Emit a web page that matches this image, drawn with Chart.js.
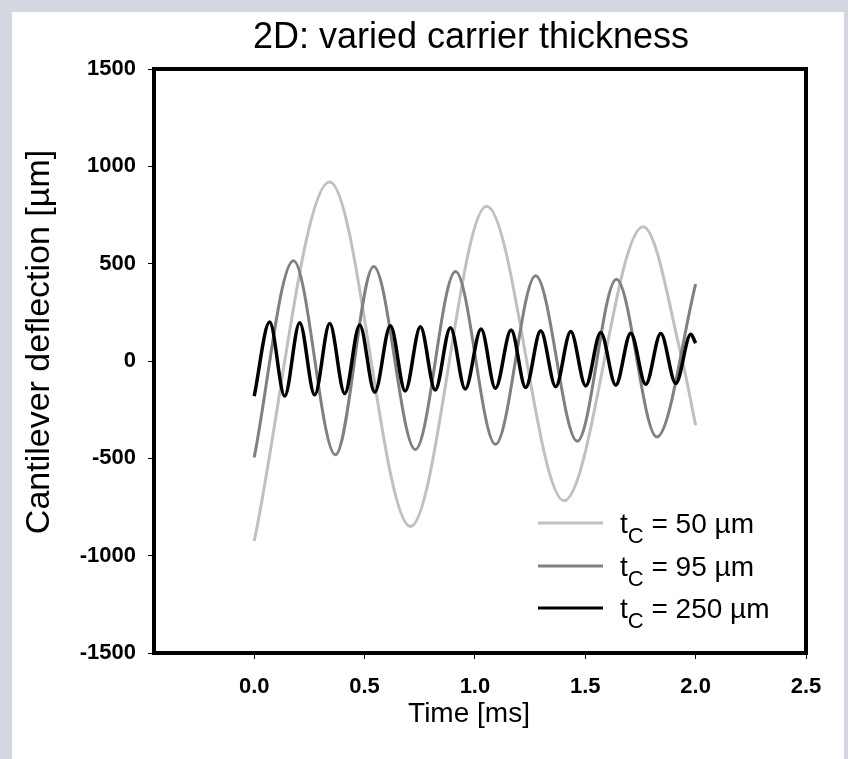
<!DOCTYPE html>
<html>
<head>
<meta charset="utf-8">
<title>2D: varied carrier thickness</title>
<script src="https://cdn.jsdelivr.net/npm/chart.js@4.4.1/dist/chart.umd.min.js"></script>
<style>
  html, body { margin: 0; padding: 0; background: #d3d8e0; }
  body { width: 848px; height: 759px; position: relative; overflow: hidden; }
  #panel { position: absolute; left: 12px; top: 12px; width: 832px; height: 747px; background: #fff; }
  canvas { display: block; }
</style>
</head>
<body>
<div id="panel"><canvas id="chart" width="832" height="747"></canvas></div>
<script>
// carrier thickness of each curve [µm]
const carrierThickness = [50, 95, 250];

// tc = 50 µm (extrema + end points)
const tc50Time = [0, 0.342, 0.708, 1.053, 1.404, 1.762, 1.94, 2.0];
const tc50Defl = [-925, 920, -850, 795, -718, 690, 0, -330];

// tc = 95 µm
const tc95Time = [0, 0.178, 0.368, 0.541, 0.730, 0.912, 1.093, 1.275, 1.464, 1.641, 1.824, 2.0];
const tc95Defl = [-495, 515, -482, 485, -455, 460, -428, 438, -412, 420, -390, 395];

// tc = 250 µm
const tc250Time = [0, 0.070, 0.138, 0.206, 0.274, 0.342, 0.410, 0.478, 0.546, 0.617, 0.684,
    0.753, 0.820, 0.889, 0.956, 1.028, 1.093, 1.164, 1.230, 1.298, 1.366, 1.434, 1.502,
    1.570, 1.638, 1.706, 1.774, 1.842, 1.910, 1.978, 2.0];
const tc250Defl = [-180, 200, -180, 197, -174, 192, -167, 185, -160, 181, -154,
    176, -149, 171, -144, 164, -140, 159, -136, 155, -132, 151, -128,
    147, -124, 143, -120, 141, -115, 137, 92];

// axis ticks
const xTicks = [0, 0.5, 1.0, 1.5, 2.0, 2.5];
const yTicks = [-1500, -1000, -500, 0, 500, 1000, 1500];

const lineColors = ['#c0c0c0', '#808080', '#000000'];
const FONT = 'Liberation Sans, Arial, Helvetica, sans-serif';

const toPoints = (xs, ys) => xs.map((x, i) => ({x: x, y: ys[i]}));
const series = [
    toPoints(tc50Time, tc50Defl),
    toPoints(tc95Time, tc95Defl),
    toPoints(tc250Time, tc250Defl)
];

// title, axis titles, frame and legend (legend needs a subscript, so it is drawn by hand)
const decorPlugin = {
    id: 'decor',
    afterDraw(chart) {
        const ctx = chart.ctx;
        const a = chart.chartArea;
        ctx.save();

        // frame round the plot area
        ctx.strokeStyle = '#000';
        ctx.lineWidth = 4;
        ctx.strokeRect(a.left, a.top, a.right - a.left, a.bottom - a.top);

        // titles
        ctx.fillStyle = '#000';
        ctx.textAlign = 'center';
        ctx.textBaseline = 'middle';
        ctx.font = '36px ' + FONT;
        ctx.fillText('2D: varied carrier thickness', 459, 26);
        ctx.font = '28px ' + FONT;
        ctx.fillText('Time [ms]', 457, 702);
        ctx.save();
        ctx.translate(28, 330);
        ctx.rotate(-Math.PI / 2);
        ctx.font = '34px ' + FONT;
        ctx.fillText('Cantilever deflection [µm]', 0, 0);
        ctx.restore();

        // legend
        const rowY = [511, 554, 596];
        ctx.textAlign = 'left';
        ctx.textBaseline = 'alphabetic';
        chart.data.datasets.forEach((ds, i) => {
            const y = rowY[i];
            ctx.strokeStyle = ds.borderColor;
            ctx.lineWidth = 3;
            ctx.beginPath();
            ctx.moveTo(526, y);
            ctx.lineTo(591, y);
            ctx.stroke();

            let x = 608;
            ctx.font = '28px ' + FONT;
            ctx.fillText('t', x, y + 10);
            x += ctx.measureText('t').width;
            ctx.font = '22px ' + FONT;
            ctx.fillText('C', x, y + 20);
            x += ctx.measureText('C').width;
            ctx.font = '28px ' + FONT;
            ctx.fillText(' = ' + carrierThickness[i] + ' µm', x, y + 10);
        });
        ctx.restore();
    }
};

new Chart(document.getElementById('chart'), {
    type: 'line',
    data: {
        datasets: series.map((pts, i) => ({
            label: 'tC = ' + carrierThickness[i] + ' µm',
            data: pts,
            borderColor: lineColors[i],
            backgroundColor: lineColors[i],
            borderWidth: i === 2 ? 3.5 : 3,
            pointRadius: 0,
            fill: false,
            cubicInterpolationMode: 'monotone',
            order: 3 - i
        }))
    },
    options: {
        responsive: false,
        animation: false,
        layout: { padding: { top: 57, right: 38, left: 0, bottom: 0 } },
        plugins: {
            legend: { display: false },
            title: { display: false },
            tooltip: { enabled: false }
        },
        scales: {
            x: {
                type: 'linear',
                min: -0.454,
                max: 2.5,
                afterBuildTicks: (s) => { s.ticks = xTicks.map(v => ({value: v})); },
                afterFit: (s) => { s.height = 106; },
                ticks: {
                    callback: (v) => Number(v).toFixed(1),
                    font: { family: FONT, size: 22, weight: 'bold' },
                    color: '#000',
                    padding: 15,
                    maxRotation: 0,
                    autoSkip: false
                },
                grid: { drawOnChartArea: false, drawTicks: true, tickLength: 6, color: '#000', lineWidth: 1 },
                border: { display: false }
            },
            y: {
                min: -1500,
                max: 1500,
                afterBuildTicks: (s) => { s.ticks = yTicks.map(v => ({value: v})); },
                afterFit: (s) => { s.width = 142; },
                ticks: {
                    callback: (v) => String(v),
                    font: { family: FONT, size: 22, weight: 'bold' },
                    color: '#000',
                    padding: 12
                },
                grid: { drawOnChartArea: false, drawTicks: true, tickLength: 6, color: '#000', lineWidth: 1 },
                border: { display: false }
            }
        }
    },
    plugins: [decorPlugin]
});
</script>
</body>
</html>
